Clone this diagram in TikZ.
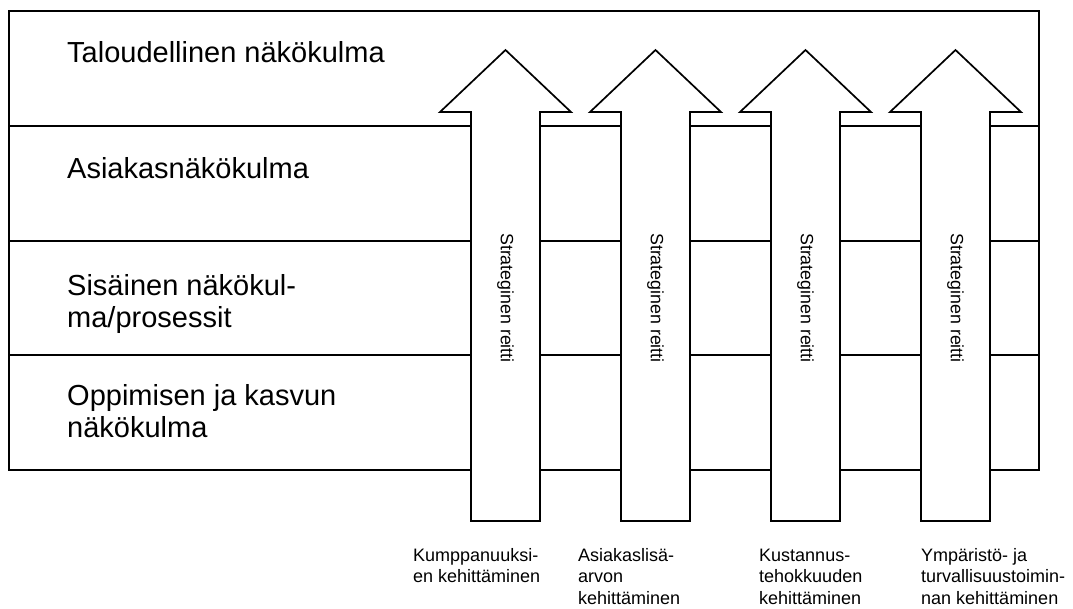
\documentclass[tikz,border=0pt]{standalone}
\usepackage{fontspec}
\setmainfont{Liberation Sans}
\begin{document}
\begin{tikzpicture}[x=1pt,y=-1pt,
  frame/.style={line width=1.7pt},
  arrowbox/.style={draw, fill=white, line width=1.7pt, line join=miter},
  rowlabel/.style={anchor=base west, inner sep=0pt, font=\fontsize{29}{32}\selectfont, align=left},
  pathlabel/.style={rotate=-90, anchor=west, inner sep=0pt, font=\fontsize{17.8}{20}\selectfont},
  goallabel/.style={anchor=base west, inner sep=0pt, font=\fontsize{18}{21.5}\selectfont, align=left}]
\useasboundingbox (0,0) rectangle (1073,608);
% frame and rows
\draw[frame] (9,11) rectangle (1039,470);
\draw[frame] (9,126) -- (1039,126);
\draw[frame] (9,241) -- (1039,241);
\draw[frame] (9,355) -- (1039,355);
% row labels (anchor = baseline of the last line)
\node[rowlabel] (r1) at (67,62) {Taloudellinen näkökulma};
\node[rowlabel] (r2) at (67,178) {Asiakasnäkökulma};
\node[rowlabel] (r3) at (67,327) {Sisäinen näkökul-\\ma/prosessit};
\node[rowlabel] (r4) at (67,437) {Oppimisen ja kasvun\\näkökulma};
% strategic arrows
\foreach \k in {0,1,2,3}{
  \pgfmathsetmacro{\s}{471+150*\k}
  \draw[arrowbox] (\s,521) -- (\s,112) -- (\s-31,112) -- (\s+34.5,50)
     -- (\s+100,112) -- (\s+69,112) -- (\s+69,521) -- cycle;
  \node[pathlabel] (p\k) at (\s+34.5,233) {Strateginen reitti};
}
% goal labels (anchor = baseline of the last line)
\node[goallabel] (g1) at (413,582.5) {Kumppanuuksi-\\en kehittäminen};
\node[goallabel] (g2) at (578,604) {Asiakaslisä-\\arvon\\kehittäminen};
\node[goallabel] (g3) at (759,604) {Kustannus-\\tehokkuuden\\kehittäminen};
\node[goallabel] (g4) at (921,604) {Ympäristö- ja\\turvallisuustoimin-\\nan kehittäminen};
\end{tikzpicture}
\end{document}
